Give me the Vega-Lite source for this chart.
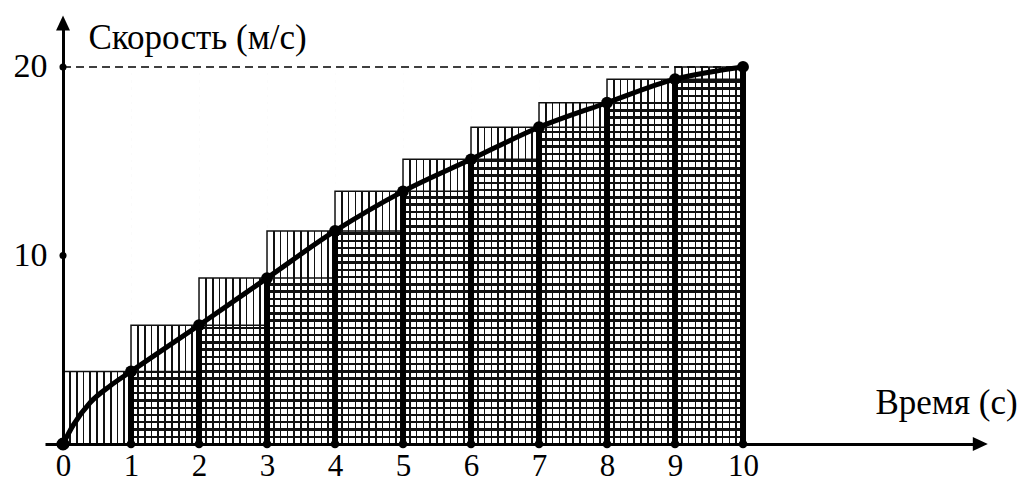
{
  "$schema": "https://vega.github.io/schema/vega-lite/v6.json",
  "autosize": "none",
  "width": 936,
  "height": 421,
  "padding": {"left": 45, "top": 23, "right": 42, "bottom": 39},
  "background": "white",
  "config": {
    "view": {"stroke": null},
    "font": "Liberation Serif"
  },
  "datasets": {
    "steps": [
      {"t0": 0, "t1": 1, "lower": 0, "upper": 3.85},
      {"t0": 1, "t1": 2, "lower": 3.85, "upper": 6.3},
      {"t0": 2, "t1": 3, "lower": 6.3, "upper": 8.8},
      {"t0": 3, "t1": 4, "lower": 8.8, "upper": 11.3},
      {"t0": 4, "t1": 5, "lower": 11.3, "upper": 13.4},
      {"t0": 5, "t1": 6, "lower": 13.4, "upper": 15.1},
      {"t0": 6, "t1": 7, "lower": 15.1, "upper": 16.8},
      {"t0": 7, "t1": 8, "lower": 16.8, "upper": 18.1},
      {"t0": 8, "t1": 9, "lower": 18.1, "upper": 19.35},
      {"t0": 9, "t1": 10, "lower": 19.35, "upper": 20}
    ],
    "curve": [
      {"t": 0, "v": 0},
      {"t": 0.15, "v": 1.0},
      {"t": 0.4, "v": 2.2},
      {"t": 0.7, "v": 3.1},
      {"t": 1, "v": 3.85},
      {"t": 2, "v": 6.3},
      {"t": 3, "v": 8.8},
      {"t": 4, "v": 11.3},
      {"t": 5, "v": 13.4},
      {"t": 6, "v": 15.1},
      {"t": 7, "v": 16.8},
      {"t": 8, "v": 18.1},
      {"t": 9, "v": 19.35},
      {"t": 10, "v": 20}
    ],
    "pts": [
      {"t": 1, "v": 3.85},
      {"t": 2, "v": 6.3},
      {"t": 3, "v": 8.8},
      {"t": 4, "v": 11.3},
      {"t": 5, "v": 13.4},
      {"t": 6, "v": 15.1},
      {"t": 7, "v": 16.8},
      {"t": 8, "v": 18.1},
      {"t": 9, "v": 19.35},
      {"t": 10, "v": 20}
    ],
    "yticks": [{"v": 10}, {"v": 20}],
    "one": [{"k": 1}]
  },
  "layer": [
    {
      "data": {"name": "one"},
      "mark": {
        "type": "rect",
        "fill": {
          "gradient": "linear", "x1": 0, "y1": 0, "x2": 0, "y2": 1,
          "stops": [
            {"offset": 0, "color": "rgba(0,0,0,0)"},
            {"offset": 0.01593, "color": "rgba(0,0,0,0)"}, {"offset": 0.01593, "color": "#111"}, {"offset": 0.02253, "color": "#111"}, {"offset": 0.02253, "color": "rgba(0,0,0,0)"},
            {"offset": 0.03516, "color": "rgba(0,0,0,0)"}, {"offset": 0.03516, "color": "#111"}, {"offset": 0.04176, "color": "#111"}, {"offset": 0.04176, "color": "rgba(0,0,0,0)"},
            {"offset": 0.05439, "color": "rgba(0,0,0,0)"}, {"offset": 0.05439, "color": "#111"}, {"offset": 0.06099, "color": "#111"}, {"offset": 0.06099, "color": "rgba(0,0,0,0)"},
            {"offset": 0.07362, "color": "rgba(0,0,0,0)"}, {"offset": 0.07362, "color": "#111"}, {"offset": 0.08022, "color": "#111"}, {"offset": 0.08022, "color": "rgba(0,0,0,0)"},
            {"offset": 0.09285, "color": "rgba(0,0,0,0)"}, {"offset": 0.09285, "color": "#111"}, {"offset": 0.09945, "color": "#111"}, {"offset": 0.09945, "color": "rgba(0,0,0,0)"},
            {"offset": 0.11208, "color": "rgba(0,0,0,0)"}, {"offset": 0.11208, "color": "#111"}, {"offset": 0.11868, "color": "#111"}, {"offset": 0.11868, "color": "rgba(0,0,0,0)"},
            {"offset": 0.13132, "color": "rgba(0,0,0,0)"}, {"offset": 0.13132, "color": "#111"}, {"offset": 0.13792, "color": "#111"}, {"offset": 0.13792, "color": "rgba(0,0,0,0)"},
            {"offset": 0.15055, "color": "rgba(0,0,0,0)"}, {"offset": 0.15055, "color": "#111"}, {"offset": 0.15715, "color": "#111"}, {"offset": 0.15715, "color": "rgba(0,0,0,0)"},
            {"offset": 0.16978, "color": "rgba(0,0,0,0)"}, {"offset": 0.16978, "color": "#111"}, {"offset": 0.17638, "color": "#111"}, {"offset": 0.17638, "color": "rgba(0,0,0,0)"},
            {"offset": 0.18901, "color": "rgba(0,0,0,0)"}, {"offset": 0.18901, "color": "#111"}, {"offset": 0.19561, "color": "#111"}, {"offset": 0.19561, "color": "rgba(0,0,0,0)"},
            {"offset": 0.20824, "color": "rgba(0,0,0,0)"}, {"offset": 0.20824, "color": "#111"}, {"offset": 0.21484, "color": "#111"}, {"offset": 0.21484, "color": "rgba(0,0,0,0)"},
            {"offset": 0.22747, "color": "rgba(0,0,0,0)"}, {"offset": 0.22747, "color": "#111"}, {"offset": 0.23407, "color": "#111"}, {"offset": 0.23407, "color": "rgba(0,0,0,0)"},
            {"offset": 0.2467, "color": "rgba(0,0,0,0)"}, {"offset": 0.2467, "color": "#111"}, {"offset": 0.2533, "color": "#111"}, {"offset": 0.2533, "color": "rgba(0,0,0,0)"},
            {"offset": 0.26593, "color": "rgba(0,0,0,0)"}, {"offset": 0.26593, "color": "#111"}, {"offset": 0.27253, "color": "#111"}, {"offset": 0.27253, "color": "rgba(0,0,0,0)"},
            {"offset": 0.28516, "color": "rgba(0,0,0,0)"}, {"offset": 0.28516, "color": "#111"}, {"offset": 0.29176, "color": "#111"}, {"offset": 0.29176, "color": "rgba(0,0,0,0)"},
            {"offset": 0.30439, "color": "rgba(0,0,0,0)"}, {"offset": 0.30439, "color": "#111"}, {"offset": 0.31099, "color": "#111"}, {"offset": 0.31099, "color": "rgba(0,0,0,0)"},
            {"offset": 0.32362, "color": "rgba(0,0,0,0)"}, {"offset": 0.32362, "color": "#111"}, {"offset": 0.33022, "color": "#111"}, {"offset": 0.33022, "color": "rgba(0,0,0,0)"},
            {"offset": 0.34285, "color": "rgba(0,0,0,0)"}, {"offset": 0.34285, "color": "#111"}, {"offset": 0.34945, "color": "#111"}, {"offset": 0.34945, "color": "rgba(0,0,0,0)"},
            {"offset": 0.36208, "color": "rgba(0,0,0,0)"}, {"offset": 0.36208, "color": "#111"}, {"offset": 0.36868, "color": "#111"}, {"offset": 0.36868, "color": "rgba(0,0,0,0)"},
            {"offset": 0.38132, "color": "rgba(0,0,0,0)"}, {"offset": 0.38132, "color": "#111"}, {"offset": 0.38792, "color": "#111"}, {"offset": 0.38792, "color": "rgba(0,0,0,0)"},
            {"offset": 0.40055, "color": "rgba(0,0,0,0)"}, {"offset": 0.40055, "color": "#111"}, {"offset": 0.40715, "color": "#111"}, {"offset": 0.40715, "color": "rgba(0,0,0,0)"},
            {"offset": 0.41978, "color": "rgba(0,0,0,0)"}, {"offset": 0.41978, "color": "#111"}, {"offset": 0.42638, "color": "#111"}, {"offset": 0.42638, "color": "rgba(0,0,0,0)"},
            {"offset": 0.43901, "color": "rgba(0,0,0,0)"}, {"offset": 0.43901, "color": "#111"}, {"offset": 0.44561, "color": "#111"}, {"offset": 0.44561, "color": "rgba(0,0,0,0)"},
            {"offset": 0.45824, "color": "rgba(0,0,0,0)"}, {"offset": 0.45824, "color": "#111"}, {"offset": 0.46484, "color": "#111"}, {"offset": 0.46484, "color": "rgba(0,0,0,0)"},
            {"offset": 0.47747, "color": "rgba(0,0,0,0)"}, {"offset": 0.47747, "color": "#111"}, {"offset": 0.48407, "color": "#111"}, {"offset": 0.48407, "color": "rgba(0,0,0,0)"},
            {"offset": 0.4967, "color": "rgba(0,0,0,0)"}, {"offset": 0.4967, "color": "#111"}, {"offset": 0.5033, "color": "#111"}, {"offset": 0.5033, "color": "rgba(0,0,0,0)"},
            {"offset": 0.51593, "color": "rgba(0,0,0,0)"}, {"offset": 0.51593, "color": "#111"}, {"offset": 0.52253, "color": "#111"}, {"offset": 0.52253, "color": "rgba(0,0,0,0)"},
            {"offset": 0.53516, "color": "rgba(0,0,0,0)"}, {"offset": 0.53516, "color": "#111"}, {"offset": 0.54176, "color": "#111"}, {"offset": 0.54176, "color": "rgba(0,0,0,0)"},
            {"offset": 0.55439, "color": "rgba(0,0,0,0)"}, {"offset": 0.55439, "color": "#111"}, {"offset": 0.56099, "color": "#111"}, {"offset": 0.56099, "color": "rgba(0,0,0,0)"},
            {"offset": 0.57362, "color": "rgba(0,0,0,0)"}, {"offset": 0.57362, "color": "#111"}, {"offset": 0.58022, "color": "#111"}, {"offset": 0.58022, "color": "rgba(0,0,0,0)"},
            {"offset": 0.59285, "color": "rgba(0,0,0,0)"}, {"offset": 0.59285, "color": "#111"}, {"offset": 0.59945, "color": "#111"}, {"offset": 0.59945, "color": "rgba(0,0,0,0)"},
            {"offset": 0.61208, "color": "rgba(0,0,0,0)"}, {"offset": 0.61208, "color": "#111"}, {"offset": 0.61868, "color": "#111"}, {"offset": 0.61868, "color": "rgba(0,0,0,0)"},
            {"offset": 0.63132, "color": "rgba(0,0,0,0)"}, {"offset": 0.63132, "color": "#111"}, {"offset": 0.63792, "color": "#111"}, {"offset": 0.63792, "color": "rgba(0,0,0,0)"},
            {"offset": 0.65055, "color": "rgba(0,0,0,0)"}, {"offset": 0.65055, "color": "#111"}, {"offset": 0.65715, "color": "#111"}, {"offset": 0.65715, "color": "rgba(0,0,0,0)"},
            {"offset": 0.66978, "color": "rgba(0,0,0,0)"}, {"offset": 0.66978, "color": "#111"}, {"offset": 0.67638, "color": "#111"}, {"offset": 0.67638, "color": "rgba(0,0,0,0)"},
            {"offset": 0.68901, "color": "rgba(0,0,0,0)"}, {"offset": 0.68901, "color": "#111"}, {"offset": 0.69561, "color": "#111"}, {"offset": 0.69561, "color": "rgba(0,0,0,0)"},
            {"offset": 0.70824, "color": "rgba(0,0,0,0)"}, {"offset": 0.70824, "color": "#111"}, {"offset": 0.71484, "color": "#111"}, {"offset": 0.71484, "color": "rgba(0,0,0,0)"},
            {"offset": 0.72747, "color": "rgba(0,0,0,0)"}, {"offset": 0.72747, "color": "#111"}, {"offset": 0.73407, "color": "#111"}, {"offset": 0.73407, "color": "rgba(0,0,0,0)"},
            {"offset": 0.7467, "color": "rgba(0,0,0,0)"}, {"offset": 0.7467, "color": "#111"}, {"offset": 0.7533, "color": "#111"}, {"offset": 0.7533, "color": "rgba(0,0,0,0)"},
            {"offset": 0.76593, "color": "rgba(0,0,0,0)"}, {"offset": 0.76593, "color": "#111"}, {"offset": 0.77253, "color": "#111"}, {"offset": 0.77253, "color": "rgba(0,0,0,0)"},
            {"offset": 0.78516, "color": "rgba(0,0,0,0)"}, {"offset": 0.78516, "color": "#111"}, {"offset": 0.79176, "color": "#111"}, {"offset": 0.79176, "color": "rgba(0,0,0,0)"},
            {"offset": 0.80439, "color": "rgba(0,0,0,0)"}, {"offset": 0.80439, "color": "#111"}, {"offset": 0.81099, "color": "#111"}, {"offset": 0.81099, "color": "rgba(0,0,0,0)"},
            {"offset": 0.82362, "color": "rgba(0,0,0,0)"}, {"offset": 0.82362, "color": "#111"}, {"offset": 0.83022, "color": "#111"}, {"offset": 0.83022, "color": "rgba(0,0,0,0)"},
            {"offset": 0.84285, "color": "rgba(0,0,0,0)"}, {"offset": 0.84285, "color": "#111"}, {"offset": 0.84945, "color": "#111"}, {"offset": 0.84945, "color": "rgba(0,0,0,0)"},
            {"offset": 0.86208, "color": "rgba(0,0,0,0)"}, {"offset": 0.86208, "color": "#111"}, {"offset": 0.86868, "color": "#111"}, {"offset": 0.86868, "color": "rgba(0,0,0,0)"},
            {"offset": 0.88132, "color": "rgba(0,0,0,0)"}, {"offset": 0.88132, "color": "#111"}, {"offset": 0.88792, "color": "#111"}, {"offset": 0.88792, "color": "rgba(0,0,0,0)"},
            {"offset": 0.90055, "color": "rgba(0,0,0,0)"}, {"offset": 0.90055, "color": "#111"}, {"offset": 0.90715, "color": "#111"}, {"offset": 0.90715, "color": "rgba(0,0,0,0)"},
            {"offset": 0.91978, "color": "rgba(0,0,0,0)"}, {"offset": 0.91978, "color": "#111"}, {"offset": 0.92638, "color": "#111"}, {"offset": 0.92638, "color": "rgba(0,0,0,0)"},
            {"offset": 0.93901, "color": "rgba(0,0,0,0)"}, {"offset": 0.93901, "color": "#111"}, {"offset": 0.94561, "color": "#111"}, {"offset": 0.94561, "color": "rgba(0,0,0,0)"},
            {"offset": 0.95824, "color": "rgba(0,0,0,0)"}, {"offset": 0.95824, "color": "#111"}, {"offset": 0.96484, "color": "#111"}, {"offset": 0.96484, "color": "rgba(0,0,0,0)"},
            {"offset": 0.97747, "color": "rgba(0,0,0,0)"}, {"offset": 0.97747, "color": "#111"}, {"offset": 0.98407, "color": "#111"}, {"offset": 0.98407, "color": "rgba(0,0,0,0)"},
            {"offset": 1, "color": "rgba(0,0,0,0)"}
          ]
        }
      },
      "encoding": {
        "x": {"datum": 1, "type": "quantitative"},
        "x2": {"datum": 10},
        "y": {"datum": 0, "type": "quantitative"},
        "y2": {"datum": 20}
      }
    },
    {
      "data": {"name": "steps"},
      "mark": {"type": "rect", "fill": "white", "strokeWidth": 0},
      "encoding": {
        "x": {"field": "t0", "type": "quantitative"},
        "x2": {"field": "t1"},
        "y": {"field": "lower", "type": "quantitative"},
        "y2": {"datum": 20.3}
      }
    },
    {
      "data": {"name": "steps"},
      "mark": {
        "type": "rect",
        "stroke": "#111",
        "strokeWidth": 1.5,
        "fill": {
          "gradient": "linear", "x1": 0, "y1": 0, "x2": 1, "y2": 0,
          "stops": [
            {"offset": 0, "color": "rgba(0,0,0,0)"},
            {"offset": 0.087, "color": "rgba(0,0,0,0)"}, {"offset": 0.087, "color": "#111"}, {"offset": 0.113, "color": "#111"}, {"offset": 0.113, "color": "rgba(0,0,0,0)"},
            {"offset": 0.187, "color": "rgba(0,0,0,0)"}, {"offset": 0.187, "color": "#111"}, {"offset": 0.213, "color": "#111"}, {"offset": 0.213, "color": "rgba(0,0,0,0)"},
            {"offset": 0.287, "color": "rgba(0,0,0,0)"}, {"offset": 0.287, "color": "#111"}, {"offset": 0.313, "color": "#111"}, {"offset": 0.313, "color": "rgba(0,0,0,0)"},
            {"offset": 0.387, "color": "rgba(0,0,0,0)"}, {"offset": 0.387, "color": "#111"}, {"offset": 0.413, "color": "#111"}, {"offset": 0.413, "color": "rgba(0,0,0,0)"},
            {"offset": 0.487, "color": "rgba(0,0,0,0)"}, {"offset": 0.487, "color": "#111"}, {"offset": 0.513, "color": "#111"}, {"offset": 0.513, "color": "rgba(0,0,0,0)"},
            {"offset": 0.587, "color": "rgba(0,0,0,0)"}, {"offset": 0.587, "color": "#111"}, {"offset": 0.613, "color": "#111"}, {"offset": 0.613, "color": "rgba(0,0,0,0)"},
            {"offset": 0.687, "color": "rgba(0,0,0,0)"}, {"offset": 0.687, "color": "#111"}, {"offset": 0.713, "color": "#111"}, {"offset": 0.713, "color": "rgba(0,0,0,0)"},
            {"offset": 0.787, "color": "rgba(0,0,0,0)"}, {"offset": 0.787, "color": "#111"}, {"offset": 0.813, "color": "#111"}, {"offset": 0.813, "color": "rgba(0,0,0,0)"},
            {"offset": 0.887, "color": "rgba(0,0,0,0)"}, {"offset": 0.887, "color": "#111"}, {"offset": 0.913, "color": "#111"}, {"offset": 0.913, "color": "rgba(0,0,0,0)"},
            {"offset": 1, "color": "rgba(0,0,0,0)"}
          ]
        }
      },
      "encoding": {
        "x": {
          "field": "t0", "type": "quantitative",
          "scale": {"domain": [-0.265, 13.5], "nice": false, "zero": false},
          "axis": {
            "values": [0, 1, 2, 3, 4, 5, 6, 7, 8, 9, 10], "format": "d",
            "ticks": false, "grid": false,
            "domainColor": "black", "domainWidth": 3,
            "labelFont": "Liberation Serif", "labelFontSize": 31, "labelColor": "black",
            "labelPadding": 7, "labelFlush": false, "labelOverlap": false,
            "title": "Время (с)", "titleFont": "Liberation Serif", "titleFontSize": 35,
            "titleFontWeight": "normal", "titleColor": "black",
            "titleX": 901, "titleY": -31, "titleAlign": "center", "titleBaseline": "alphabetic",
            "zindex": 1
          }
        },
        "x2": {"field": "t1"},
        "y": {
          "field": "upper", "type": "quantitative",
          "scale": {"domain": [0, 22.33], "nice": false, "zero": false},
          "axis": {
            "values": [10, 20], "format": "d", "offset": -18,
            "ticks": false, "grid": false,
            "domainColor": "black", "domainWidth": 3,
            "labelFont": "Liberation Serif", "labelFontSize": 34, "labelColor": "black",
            "labelPadding": 16, "labelFlush": false, "labelOverlap": false,
            "title": "Скорость (м/с)", "titleFont": "Liberation Serif", "titleFontSize": 35,
            "titleFontWeight": "normal", "titleColor": "black", "titleAngle": 0,
            "titleX": 25, "titleY": 25, "titleAlign": "left", "titleBaseline": "alphabetic",
            "zindex": 1
          }
        },
        "y2": {"datum": 0}
      }
    },
    {
      "data": {"name": "steps"},
      "mark": {"type": "rect", "fillOpacity": 0, "stroke": "#111", "strokeWidth": 1.5},
      "encoding": {
        "x": {"field": "t0", "type": "quantitative"},
        "x2": {"field": "t1"},
        "y": {"field": "lower", "type": "quantitative"},
        "y2": {"datum": 0}
      }
    },
    {
      "data": {"name": "steps"},
      "mark": {"type": "rule", "stroke": "black", "strokeWidth": 6},
      "encoding": {
        "x": {"field": "t1", "type": "quantitative"},
        "y": {"field": "upper", "type": "quantitative"},
        "y2": {"datum": 0}
      }
    },
    {
      "data": {"name": "one"},
      "mark": {"type": "rule", "stroke": "black", "strokeWidth": 1.5, "strokeDash": [8, 5]},
      "encoding": {
        "x": {"datum": 0, "type": "quantitative"},
        "x2": {"datum": 10},
        "y": {"datum": 20, "type": "quantitative"}
      }
    },
    {
      "data": {"name": "curve"},
      "mark": {"type": "line", "stroke": "black", "strokeWidth": 5, "interpolate": "monotone"},
      "encoding": {
        "x": {"field": "t", "type": "quantitative"},
        "y": {"field": "v", "type": "quantitative"}
      }
    },
    {
      "data": {"name": "pts"},
      "mark": {"type": "point", "filled": true, "fill": "black", "stroke": null, "opacity": 1, "size": 140, "shape": "circle"},
      "encoding": {
        "x": {"field": "t", "type": "quantitative"},
        "y": {"field": "v", "type": "quantitative"}
      }
    },
    {
      "data": {"name": "pts"},
      "mark": {"type": "point", "filled": true, "fill": "black", "stroke": null, "opacity": 1, "size": 75, "shape": "circle"},
      "encoding": {
        "x": {"field": "t", "type": "quantitative"},
        "y": {"datum": 0, "type": "quantitative"}
      }
    },
    {
      "data": {"name": "one"},
      "mark": {"type": "point", "filled": true, "fill": "black", "stroke": null, "opacity": 1, "size": 170, "shape": "circle"},
      "encoding": {
        "x": {"datum": 0, "type": "quantitative"},
        "y": {"datum": 0, "type": "quantitative"}
      }
    },
    {
      "data": {"name": "yticks"},
      "mark": {"type": "point", "filled": true, "fill": "black", "stroke": null, "opacity": 1, "size": 50, "shape": "circle"},
      "encoding": {
        "x": {"datum": 0, "type": "quantitative"},
        "y": {"field": "v", "type": "quantitative"}
      }
    },
    {
      "data": {"name": "one"},
      "mark": {"type": "point", "filled": true, "fill": "black", "stroke": null, "opacity": 1, "size": 225, "shape": "M-1,-0.93L1,0L-1,0.93Z"},
      "encoding": {
        "x": {"datum": 13.49, "type": "quantitative"},
        "y": {"datum": 0, "type": "quantitative"}
      }
    },
    {
      "data": {"name": "one"},
      "mark": {"type": "point", "filled": true, "fill": "black", "stroke": null, "opacity": 1, "size": 225, "shape": "M-0.93,1L0,-1L0.93,1Z"},
      "encoding": {
        "x": {"datum": 0, "type": "quantitative"},
        "y": {"datum": 22.33, "type": "quantitative"}
      }
    }
  ]
}
